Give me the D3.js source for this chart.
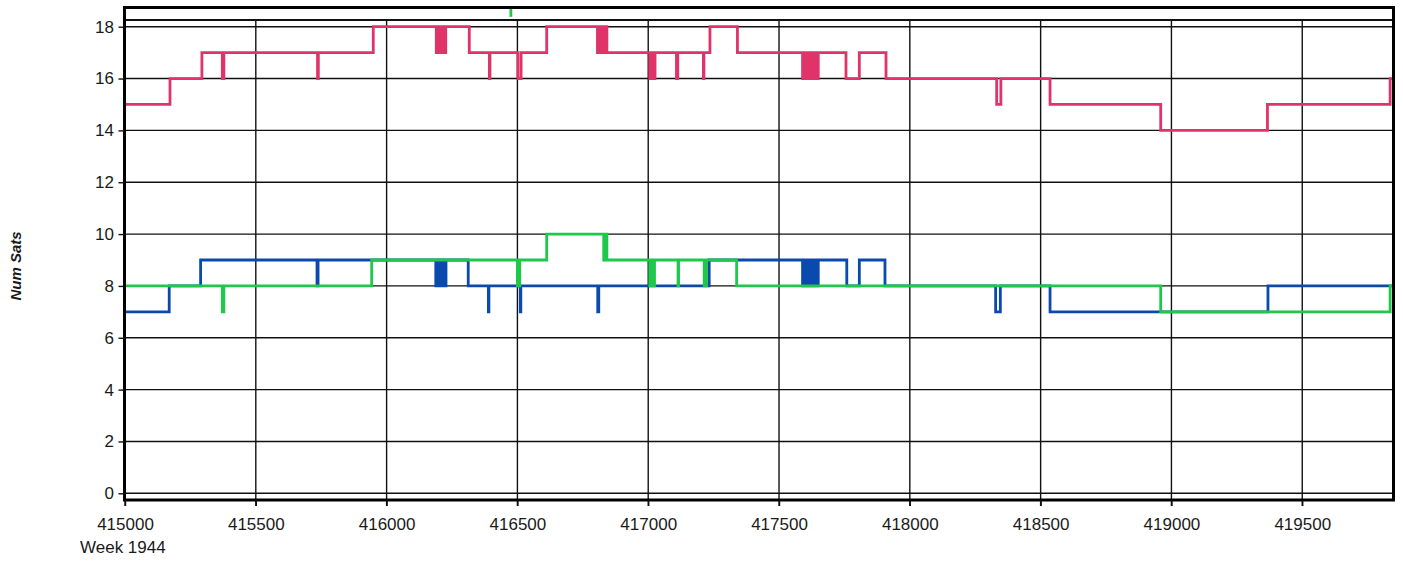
<!DOCTYPE html>
<html>
<head>
<meta charset="utf-8">
<script src="https://cdn.jsdelivr.net/npm/d3@7"></script>
<style>
html,body{margin:0;padding:0;background:#fff;}
svg{display:block;}
text{font-family:"Liberation Sans",Arial,sans-serif;fill:#1a1a1a;}
</style>
</head>
<body>
<svg id="chart" width="1403" height="561"></svg>
<script>
// ---- data (change points: [time, numSats], step-after) ----
const xTicks = [415000,415500,416000,416500,417000,417500,418000,418500,419000,419500];
const yTicks = [0,2,4,6,8,10,12,14,16,18];
const xLabel = "Week 1944";
const yLabel = "Num Sats";

const redSeries = [
 [415000,15],[415172,16],[415294,17],[415372,16],[415378,17],[415736,16],[415739,17],[415949,18],
 [416190,17],[416195,18],[416200,17],[416205,18],[416210,17],[416215,18],[416220,17],[416226,18],
 [416316,17],[416393,16],[416395,17],[416502,16],[416514,17],[416612,18],
 [416806,17],[416812,18],[416818,17],[416824,18],[416830,17],[416836,18],[416842,17],
 [417006,16],[417012,17],[417018,16],[417026,17],
 [417108,16],[417113,17],[417211,16],[417213,17],[417236,18],[417341,17],
 [417590,16],[417597,17],[417604,16],[417611,17],[417618,16],[417625,17],[417632,16],[417639,17],[417646,16],[417650,17],
 [417756,16],[417807,17],[417909,16],[418332,15],[418348,16],[418536,15],[418959,14],[419367,15],[419836,16],[419850,16]
];
const blueSeries = [
 [415000,7],[415169,8],[415289,9],[415734,8],[415738,9],
 [416188,8],[416194,9],[416200,8],[416206,9],[416212,8],[416218,9],[416224,8],[416227,9],
 [416312,8],[416389,7],[416391,8],[416511,7],[416513,8],[416807,7],[416811,8],
 [417233,9],
 [417590,8],[417597,9],[417604,8],[417611,9],[417618,8],[417625,9],[417632,8],[417639,9],[417646,8],[417650,9],
 [417759,8],[417807,9],[417905,8],[418328,7],[418346,8],[418536,7],[419369,8],[419850,8]
];
const greenSeries = [
 [415000,8],[415372,7],[415378,8],[415943,9],[416500,8],[416509,9],[416612,10],
 [416830,9],[416836,10],[416842,9],
 [417006,8],[417012,9],[417018,8],[417024,9],
 [417114,8],[417116,9],[417214,8],[417223,9],[417338,8],[418959,7],[419836,8],[419850,8]
];
const greenTopMark = [416475, 18.38, 18.72];

// ---- layout ----
const svg = d3.select("#chart");
const x = d3.scaleLinear().domain([415000, 419850]).range([125, 1393.8]);
const y = d3.scaleLinear().domain([0, 18]).range([493.3, 26.7]);
const frame = {left:124.5, right:1393.5, top:7.5, inner:20, bottom:500};

// grid
const g = svg.append("g");
g.selectAll(".hg").data(yTicks).join("line")
  .attr("x1", frame.left).attr("x2", frame.right)
  .attr("y1", d=>y(d)).attr("y2", d=>y(d))
  .attr("stroke","#111").attr("stroke-width",1.4);
g.selectAll(".vg").data(xTicks).join("line")
  .attr("x1", d=>x(d)).attr("x2", d=>x(d))
  .attr("y1", frame.inner).attr("y2", frame.bottom+6)
  .attr("stroke","#111").attr("stroke-width",1.4);

// inner top line
g.append("line").attr("x1",frame.left).attr("x2",frame.right)
  .attr("y1",frame.inner).attr("y2",frame.inner)
  .attr("stroke","#111").attr("stroke-width",2.2);

// series
const line = d3.line().x(d=>x(d[0])).y(d=>y(d[1])).curve(d3.curveStepAfter);
const series = [
  {data:redSeries, color:"#e0336a"},
  {data:blueSeries, color:"#0a4aae"},
  {data:greenSeries, color:"#1ec84a"}
];
svg.append("g").selectAll("path").data(series).join("path")
  .attr("d", d=>line(d.data)).attr("fill","none")
  .attr("stroke", d=>d.color).attr("stroke-width",2.8)
  .attr("stroke-linejoin","miter");

svg.append("line")
  .attr("x1", x(greenTopMark[0])).attr("x2", x(greenTopMark[0]))
  .attr("y1", y(greenTopMark[2])).attr("y2", y(greenTopMark[1]))
  .attr("stroke","#1ec84a").attr("stroke-width",2.8);

// frame
svg.append("rect").attr("x",frame.left).attr("y",frame.top)
  .attr("width",frame.right-frame.left).attr("height",frame.bottom-frame.top)
  .attr("fill","none").attr("stroke","#000").attr("stroke-width",3);

// axes
const xAxis = d3.axisBottom(x).tickValues(xTicks).tickSize(6).tickPadding(12).tickFormat(d3.format("d"));
const xa = svg.append("g").attr("transform",`translate(0,${frame.bottom})`).call(xAxis);
xa.select(".domain").remove();
xa.selectAll("line").attr("stroke","#111").attr("stroke-width",1.4);
xa.selectAll("text").attr("font-size",17).style("fill","#1a1a1a");

const yAxis = d3.axisLeft(y).tickValues(yTicks).tickSize(6).tickPadding(4.5);
const ya = svg.append("g").attr("transform",`translate(${frame.left},0)`).call(yAxis);
ya.select(".domain").remove();
ya.selectAll("line").attr("stroke","#111").attr("stroke-width",1.4);
ya.selectAll("text").attr("font-size",17).style("fill","#1a1a1a");

svg.append("text").attr("x",80).attr("y",553).attr("font-size",17).text(xLabel);
svg.append("text").attr("transform","translate(21,266) rotate(-90)")
  .attr("text-anchor","middle").attr("font-size",15)
  .attr("font-weight","bold").attr("font-style","italic").text(yLabel);
</script>
</body>
</html>
